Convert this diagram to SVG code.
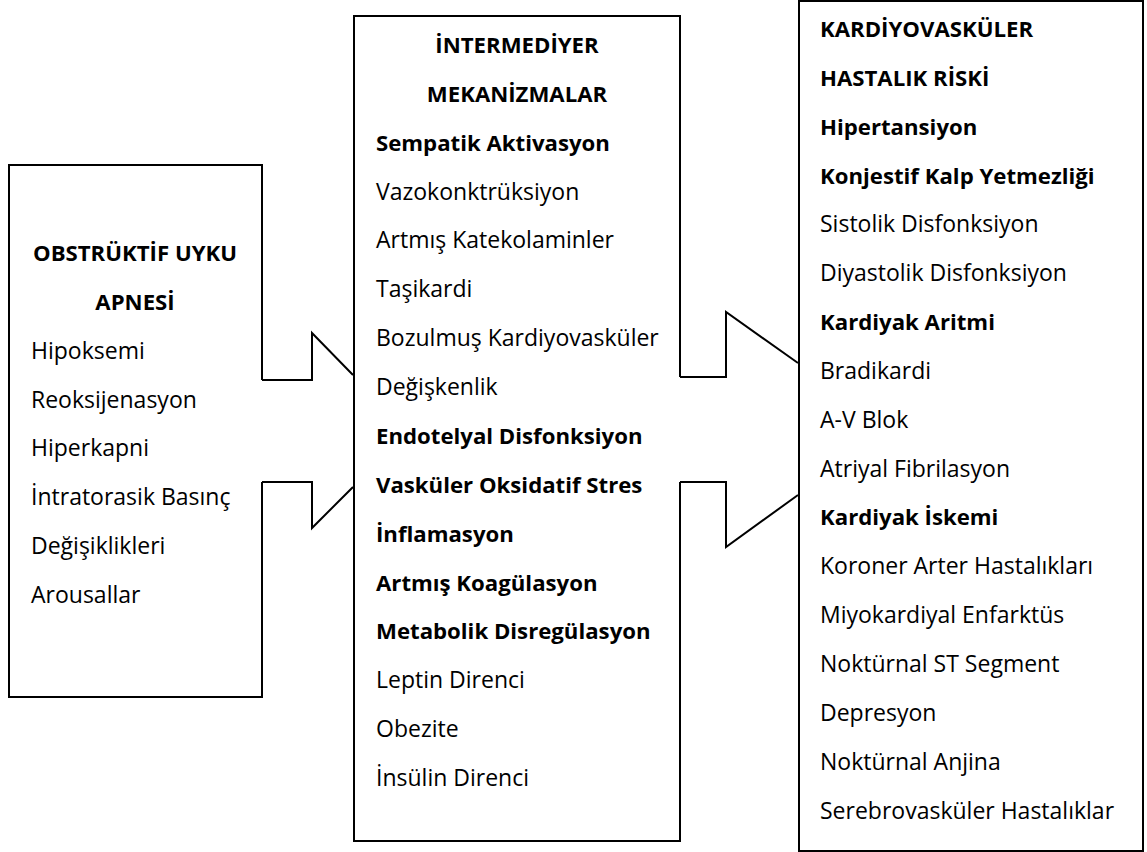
<svg xmlns="http://www.w3.org/2000/svg" width="1147" height="852" viewBox="0 0 1147 852">
<style>
.ln{fill:none;stroke:#000;stroke-width:2;stroke-linejoin:miter}
text{font-family:"Open Sans","Noto Sans","DejaVu Sans",sans-serif;font-size:23px;fill:#000}
.b{font-weight:bold;font-size:22.2px}
.c{text-anchor:middle}
</style>
<rect width="1147" height="852" fill="#fff"/>
<g id="connectors">
<path class="ln" d="M262,380 H312 V333 L353,375"/>
<path class="ln" d="M262,482 H312 V528 L353,487"/>
<path class="ln" d="M680,377 H726 V312 L798,363"/>
<path class="ln" d="M680,482 H726 V547 L798,495"/>
</g>
<g id="node-osa">
<path class="ln" d="M262,380 V165 H9 V697 H262 V482"/>
<text class="b c" x="135" y="261">OBSTRÜKTİF UYKU</text>
<text class="b c" x="135" y="310">APNESİ</text>
<text x="31" y="359">Hipoksemi</text>
<text x="31" y="408">Reoksijenasyon</text>
<text x="31" y="456">Hiperkapni</text>
<text x="31" y="505">İntratorasik Basınç</text>
<text x="31" y="554">Değişiklikleri</text>
<text x="31" y="603">Arousallar</text>
</g>
<g id="node-mechanisms">
<path class="ln" d="M680,377 V16 H354 V841 H680 V482"/>
<text class="b c" x="517" y="53">İNTERMEDİYER</text>
<text class="b c" x="517" y="102">MEKANİZMALAR</text>
<text class="b" x="376" y="151">Sempatik Aktivasyon</text>
<text x="376" y="200">Vazokonktrüksiyon</text>
<text x="376" y="248">Artmış Katekolaminler</text>
<text x="376" y="297">Taşikardi</text>
<text x="376" y="346">Bozulmuş Kardiyovasküler</text>
<text x="376" y="395">Değişkenlik</text>
<text class="b" x="376" y="444">Endotelyal Disfonksiyon</text>
<text class="b" x="376" y="493">Vasküler Oksidatif Stres</text>
<text class="b" x="376" y="542">İnflamasyon</text>
<text class="b" x="376" y="591">Artmış Koagülasyon</text>
<text class="b" x="376" y="639">Metabolik Disregülasyon</text>
<text x="376" y="688">Leptin Direnci</text>
<text x="376" y="737">Obezite</text>
<text x="376" y="786">İnsülin Direnci</text>
</g>
<g id="node-cvd">
<rect class="ln" x="799" y="1" width="344" height="850"/>
<text class="b" x="820" y="37">KARDİYOVASKÜLER</text>
<text class="b" x="820" y="86">HASTALIK RİSKİ</text>
<text class="b" x="820" y="135">Hipertansiyon</text>
<text class="b" x="820" y="184">Konjestif Kalp Yetmezliği</text>
<text x="820" y="232">Sistolik Disfonksiyon</text>
<text x="820" y="281">Diyastolik Disfonksiyon</text>
<text class="b" x="820" y="330">Kardiyak Aritmi</text>
<text x="820" y="379">Bradikardi</text>
<text x="820" y="428">A-V Blok</text>
<text x="820" y="477">Atriyal Fibrilasyon</text>
<text class="b" x="820" y="525">Kardiyak İskemi</text>
<text x="820" y="574">Koroner Arter Hastalıkları</text>
<text x="820" y="623">Miyokardiyal Enfarktüs</text>
<text x="820" y="672">Noktürnal ST Segment</text>
<text x="820" y="721">Depresyon</text>
<text x="820" y="770">Noktürnal Anjina</text>
<text x="820" y="819">Serebrovasküler Hastalıklar</text>
</g>
</svg>
